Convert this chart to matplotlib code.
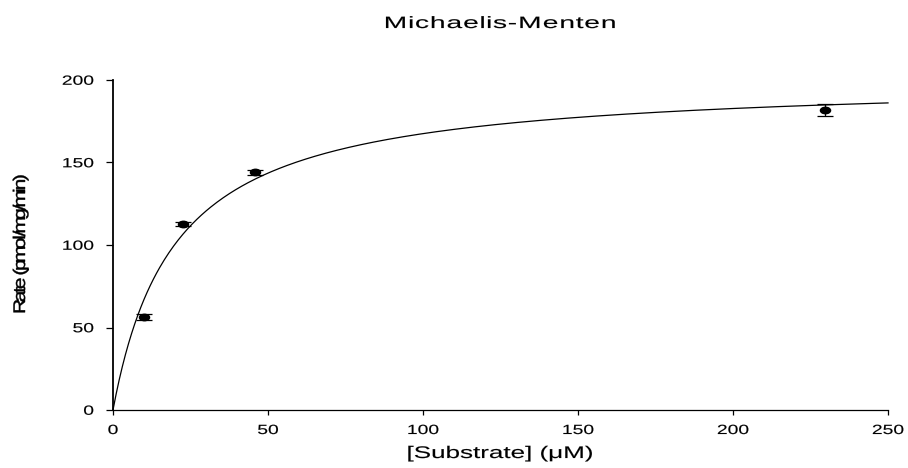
import numpy as np
import matplotlib
matplotlib.use('Agg')
import matplotlib.pyplot as plt
from matplotlib.path import Path
from matplotlib.patches import PathPatch
from matplotlib.textpath import TextPath, text_to_path
from matplotlib.font_manager import FontProperties
from matplotlib.transforms import Affine2D

# measured points: substrate (uM), rate, error
substrate = [10.0, 22.7, 45.8, 229.8]
rate = [56.5, 112.7, 144.0, 182.0]
rate_err = [1.8, 1.1, 1.6, 3.7]

# fitted Michaelis-Menten parameters
vmax = 201.0
km = 20.0

x_ticks = [0, 50, 100, 150, 200, 250]
y_ticks = [0, 50, 100, 150, 200]

title = 'Michaelis-Menten'
x_label = '[Substrate] (μM)'
y_label = 'Rate (pmol/mg/min)'

W, H = 908, 468
fig = plt.figure(figsize=(W / 100, H / 100), dpi=100)
ax = fig.add_axes([113 / W, 58 / H, 775 / W, 330 / H])

fp = FontProperties(family='Liberation Sans', size=100)


def stext(s, x, y, em, gx, adv=None, width=None, ha='center', rot=0, stroke=0.1):
    # text drawn as a path so it can be stretched like the original export
    advs = [text_to_path.get_text_width_height_descent(c, fp, ismath=False)[0] / 100 for c in s]
    if width is not None:
        adv = width / (sum(advs) * em)
    verts, codes = [], []
    pen = 0.0
    for c, a in zip(s, advs):
        if c.strip():
            p = TextPath((0, 0), c, size=1, prop=fp)
            v = p.vertices.copy()
            v[:, 0] = v[:, 0] * gx + pen + a * (adv - gx) / 2
            verts.append(v)
            codes.append(p.codes)
        pen += a * adv
    off = {'left': 0, 'center': -pen / 2, 'right': -pen}[ha]
    path = Path(np.vstack(verts), np.concatenate(codes))
    tr = Affine2D().translate(off, 0).scale(em).rotate_deg(rot).translate(x, y)
    fig.add_artist(PathPatch(path, facecolor='black', edgecolor='black', lw=stroke, transform=tr))


# fitted curve
s_fit = np.linspace(0, 250, 500)
ax.plot(s_fit, vmax * s_fit / (km + s_fit), color='black', lw=0.9, clip_on=False)

# error bars + points (points look squashed into ellipses in the original)
ax.errorbar(substrate, rate, yerr=rate_err, fmt='none', ecolor='black',
            elinewidth=0.9, capsize=6.1, capthick=0.9, zorder=3)
uc = Path.unit_circle()
ellipse = Path(uc.vertices * [1.57, 1.0], uc.codes)
ax.plot(substrate, rate, linestyle='none', marker=ellipse, markersize=7.3,
        color='black', zorder=4)

ax.set_xlim(0, 250)
ax.set_ylim(0, 200)
ax.set_xticks(x_ticks)
ax.set_yticks(y_ticks)
for side in ['top', 'right']:
    ax.spines[side].set_visible(False)
ax.spines['left'].set_linewidth(1.3)
ax.spines['bottom'].set_linewidth(0.9)
ax.tick_params(axis='x', direction='out', length=3.6, width=0.9, labelbottom=False)
ax.tick_params(axis='y', direction='out', length=5.4, width=0.9, labelleft=False)

# tick labels
for t in x_ticks:
    px, _ = ax.transData.transform((t, 0))
    stext(str(t), px, 34, em=13.3, gx=1.45, adv=1.45, ha='center')
for t in y_ticks:
    _, py = ax.transData.transform((0, t))
    stext(str(t), 94, py - 0.716 * 13.3 / 2, em=13.3, gx=1.45, adv=1.45, ha='right')

stext(title, 500, 440, em=16.4, gx=1.72, width=234, ha='center')
stext(x_label, 500, 10, em=16.8, gx=1.55, width=187, ha='center')
stext(y_label, 25, 156, em=16.8, gx=1.25, width=137, ha='left', rot=90, stroke=0.3)

fig.savefig('out.png', dpi=100)
